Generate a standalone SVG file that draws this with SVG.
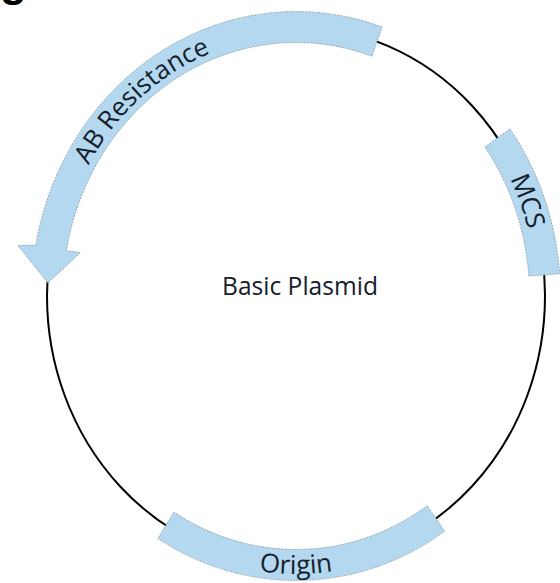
<svg xmlns="http://www.w3.org/2000/svg" width="560" height="583" viewBox="0 0 560 583">
  <style>
    .band { fill: #b3d8ef; stroke: #8a9aa6; stroke-width: 0.8; stroke-dasharray: 2 1.2; }
    .lbl { font-family: "Open Sans", "Noto Sans", sans-serif; font-size: 26px; fill: #16202c; }
    .backbone { fill: none; stroke: #000; stroke-width: 2; }
  </style>
  <defs>
    <path id="pAB" d="M 70.5 207.1 A 240 260 0 0 1 254.3 40.0"/>
    <path id="pMCS" d="M 477.1 125.4 A 240 260 0 0 1 536.0 291.5"/>
    <path id="pOri" d="M 207.8 557.2 A 258 278 0 0 0 384.2 557.2"/>
  </defs>
  <rect width="560" height="583" fill="#fff"/>
  <text x="0" y="-4" font-family="Liberation Sans, Arial, sans-serif" font-weight="bold" font-size="44" fill="#000">g</text>
  <g id="connectors">
    <ellipse id="backbone" class="backbone" cx="296" cy="296" rx="249" ry="269"/>
  </g>
  <g id="ab-resistance">
    <path class="band" d="M 382.1 27.0 A 264.5 284.5 0 0 0 35.8 245.1 L 18 245.5 L 48 283 L 80.5 252.5 L 66.3 250.7 A 233.5 253.5 0 0 1 372.0 56.3 Z"/>
    <text class="lbl" text-anchor="middle"><textPath href="#pAB" startOffset="50%">AB Resistance</textPath></text>
  </g>
  <g id="mcs">
    <path class="band" d="M 510.0 128.8 A 264.5 284.5 0 0 1 559.7 273.7 L 528.8 276.1 A 233.5 253.5 0 0 0 484.9 147.0 Z"/>
    <text class="lbl" text-anchor="middle"><textPath href="#pMCS" startOffset="50%">MCS</textPath></text>
  </g>
  <g id="origin">
    <path class="band" d="M 444.7 531.3 A 264.5 284.5 0 0 1 157.8 538.6 L 174 512.1 A 233.5 253.5 0 0 0 427.2 505.7 Z"/>
    <text class="lbl" text-anchor="middle"><textPath href="#pOri" startOffset="50%">Origin</textPath></text>
  </g>
  <g id="basic-plasmid">
    <text class="lbl" x="300" y="295" text-anchor="middle" textLength="156" lengthAdjust="spacingAndGlyphs">Basic Plasmid</text>
  </g>
</svg>
